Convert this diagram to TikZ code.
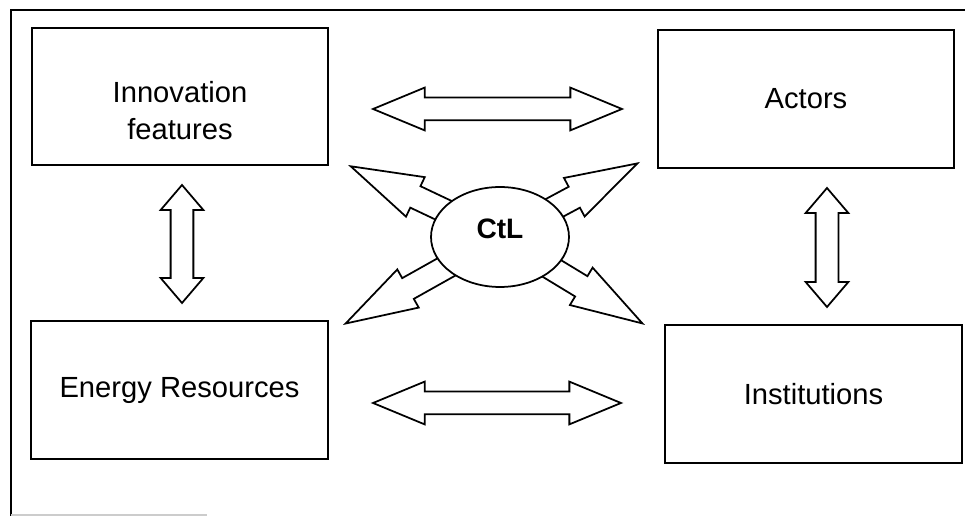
\documentclass[tikz,border=0pt]{standalone}
\usepackage{fontspec}
\setmainfont{Liberation Sans}
\usetikzlibrary{shapes.geometric,shapes.arrows,calc}

\tikzset{
  box/.style={draw, line width=1.2pt, minimum width=5.93cm, minimum height=2.75cm, inner sep=0pt, align=center},
  dblarrow/.style={double arrow, draw, fill=white, line width=1pt, inner xsep=0pt, inner ysep=0.21cm, double arrow head extend=0.2cm},
  sglarrow/.style={single arrow, draw, fill=white, line width=1pt, inner xsep=0pt, inner ysep=0.22cm, single arrow head extend=0.2cm, single arrow tip angle=34, anchor=tip},
}

\begin{document}
\begin{tikzpicture}[x=0.02cm, y=-0.02cm, font=\fontsize{16.6}{21}\selectfont]
    \useasboundingbox (0,0) rectangle (965,516);

    % Frame
    \draw[line width=1pt] (11,516) -- (11,10) -- (965,10);
    \draw[gray!40, line width=0.8pt] (11,515) -- (207,515);

    % Boxes
    \node[box] (innov) at (180,96.5) {};
    \node[align=center] (innov-txt) at ($(innov.center)+(0,14)$) {Innovation\\features};
    \node[box] (actors) at (806,99) {Actors};
    \node[box] (energy) at (179.5,390) {Energy Resources};
    \node[box] (inst) at (813.5,394) {Institutions};

    % Double arrows between boxes
    \node[dblarrow, double arrow tip angle=45, minimum height=4.98cm] (arr-top) at (497.5,109) {};
    \node[dblarrow, double arrow tip angle=45, minimum height=4.96cm] (arr-bot) at (497,403) {};
    \node[dblarrow, double arrow tip angle=81, minimum height=2.36cm, rotate=90] (arr-left) at (182,244) {};
    \node[dblarrow, double arrow tip angle=81, minimum height=2.38cm, rotate=90] (arr-right) at (827,247.5) {};

    % Arrows out of CtL, tails end under the ellipse
    \coordinate (ctl-c) at (500,237);
    \coordinate (tip-ul) at (348,165);
    \coordinate (tip-ur) at (640,162);
    \coordinate (tip-ll) at (343,325);
    \coordinate (tip-lr) at (645,325);
    \node[sglarrow, minimum height=3.36cm, rotate=154.65] (arr-ul) at (tip-ul) {};
    \node[sglarrow, minimum height=3.18cm, rotate=28.2] (arr-ur) at (tip-ur) {};
    \node[sglarrow, minimum height=3.6cm, rotate=209.3] (arr-ll) at (tip-ll) {};
    \node[sglarrow, minimum height=3.4cm, rotate=-31.25] (arr-lr) at (tip-lr) {};

    % CtL on top of the arrow tails
    \node[ellipse, draw, fill=white, line width=1pt, minimum width=2.76cm, minimum height=2cm, inner sep=0pt,
          font=\fontsize{16}{20}\selectfont\bfseries] (ctl) at (ctl-c) {\raisebox{9pt}{CtL}};
\end{tikzpicture}
\end{document}
